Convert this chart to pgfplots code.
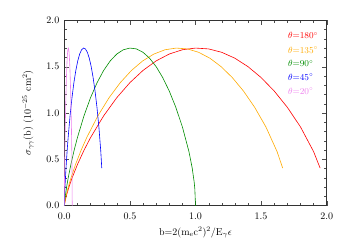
\documentclass[border=0pt]{standalone}
\usepackage{pgfplots}
\pgfplotsset{compat=1.18}
\definecolor{cred}{RGB}{255,0,0}
\definecolor{corange}{RGB}{255,170,0}
\definecolor{cgreen}{RGB}{0,140,0}
\definecolor{cblue}{RGB}{0,0,255}
\definecolor{cviolet}{RGB}{238,130,238}
\begin{document}
\begin{tikzpicture}[x=1pt,y=1pt]
\begin{axis}[
  scale only axis, width=262.4pt, height=185.2pt,
  xmin=0, xmax=2, ymin=0, ymax=2,
  xtick={0,0.5,1,1.5,2}, ytick={0,0.5,1,1.5,2},
  minor x tick num=4, minor y tick num=4,
  xticklabel style={/pgf/number format/fixed,/pgf/number format/fixed zerofill,/pgf/number format/precision=1, yshift=-4pt},
  yticklabel style={/pgf/number format/fixed,/pgf/number format/fixed zerofill,/pgf/number format/precision=1, xshift=-1.5pt},
  tick align=inside, tick pos=both,
  major tick length=5pt, minor tick length=2.5pt,
  tick style={black!70},
  axis line style={black!80, line width=0.6pt},
  xlabel={b=2(m$_\mathrm{e}$c$^2$)$^2$/E$_\gamma\epsilon$},
  ylabel={$\sigma_{\gamma\gamma}$(b) (10$^{-25}$ cm$^2$)},
  xlabel style={yshift=-1pt},
  ylabel style={yshift=6pt},
  clip=false,
  every axis plot/.append style={line width=0.6pt},
]
\addplot[cred] coordinates {
(0,0)(0.01,0.0713)(0.02,0.1258)(0.04,0.2187)(0.06,0.2999)(0.10,0.4422)(0.15,0.5965)
(0.2,0.7331)(0.3,0.9684)(0.4,1.1643)(0.5,1.3268)(0.6,1.4588)(0.7,1.5615)(0.8,1.6357)
(0.9,1.6820)(1.0,1.7001)(1.1,1.6910)(1.2,1.6543)(1.3,1.5907)(1.4,1.4997)(1.5,1.3818)
(1.6,1.2362)(1.7,1.0604)(1.8,0.8492)(1.9,0.5824)(1.95,0.4037)};
\addplot[corange] coordinates {
(0,0)(0.00854,0.0713)(0.01707,0.1258)(0.03414,0.2187)(0.05121,0.2999)(0.08536,0.4422)(0.12803,0.5965)
(0.17071,0.7331)(0.25607,0.9684)(0.34142,1.1643)(0.42678,1.3268)(0.51213,1.4588)(0.59749,1.5615)(0.68284,1.6357)
(0.76820,1.6820)(0.85355,1.7001)(0.93891,1.6910)(1.02427,1.6543)(1.10962,1.5907)(1.19498,1.4997)(1.28033,1.3818)
(1.36569,1.2362)(1.45104,1.0604)(1.53640,0.8492)(1.62175,0.5824)(1.66443,0.4037)};
\addplot[cgreen] coordinates {
(0,0)(0.005,0.0713)(0.01,0.1258)(0.02,0.2187)(0.03,0.2999)(0.05,0.4422)(0.075,0.5965)
(0.1,0.7331)(0.15,0.9684)(0.2,1.1643)(0.25,1.3268)(0.3,1.4588)(0.35,1.5615)(0.4,1.6357)
(0.45,1.6820)(0.5,1.7001)(0.55,1.6910)(0.6,1.6543)(0.65,1.5907)(0.7,1.4997)(0.75,1.3818)
(0.8,1.2362)(0.85,1.0604)(0.9,0.8492)(0.95,0.5824)(0.975,0.4037)(0.99,0.2519)(0.995,0.1773)(1.0,0)};
\addplot[cblue] coordinates {
(0,0)(0.00146,0.0713)(0.00293,0.1258)(0.00586,0.2187)(0.00879,0.2999)(0.01464,0.4422)(0.02197,0.5965)
(0.02929,0.7331)(0.04393,0.9684)(0.05858,1.1643)(0.07322,1.3268)(0.08787,1.4588)(0.10251,1.5615)(0.11716,1.6357)
(0.13180,1.6820)(0.14645,1.7001)(0.16109,1.6910)(0.17573,1.6543)(0.19038,1.5907)(0.20502,1.4997)(0.21967,1.3818)
(0.23431,1.2362)(0.24896,1.0604)(0.26360,0.8492)(0.27825,0.5824)(0.28557,0.4037)};
\addplot[cviolet] coordinates {
(0,0)(0.00030,0.0713)(0.00060,0.1258)(0.00121,0.2187)(0.00181,0.2999)(0.00302,0.4422)(0.00452,0.5965)
(0.00603,0.7331)(0.00905,0.9684)(0.01206,1.1643)(0.01508,1.3268)(0.01809,1.4588)(0.02111,1.5615)(0.02412,1.6357)
(0.02714,1.6820)(0.03016,1.7001)(0.03317,1.6910)(0.03619,1.6543)(0.03920,1.5907)(0.04222,1.4997)(0.04523,1.3818)
(0.04825,1.2362)(0.05126,1.0604)(0.05428,0.8492)(0.05729,0.5824)(0.05880,0.4037)(0.05971,0.2519)(0.06001,0.1773)(0.06031,0)};
\node[anchor=west, text=cred, font=\small, inner sep=0pt] at (rel axis cs:0.852,0.917) {$\theta$=180$^\circ$};
\node[anchor=west, text=corange, font=\small, inner sep=0pt] at (rel axis cs:0.852,0.840) {$\theta$=135$^\circ$};
\node[anchor=west, text=cgreen, font=\small, inner sep=0pt] at (rel axis cs:0.852,0.766) {$\theta$=90$^\circ$};
\node[anchor=west, text=cblue, font=\small, inner sep=0pt] at (rel axis cs:0.852,0.692) {$\theta$=45$^\circ$};
\node[anchor=west, text=cviolet, font=\small, inner sep=0pt] at (rel axis cs:0.852,0.618) {$\theta$=20$^\circ$};
\end{axis}
\path (-64.3,-41.5) rectangle (262.4+19.3,185.2+20.3);
\end{tikzpicture}
\end{document}
